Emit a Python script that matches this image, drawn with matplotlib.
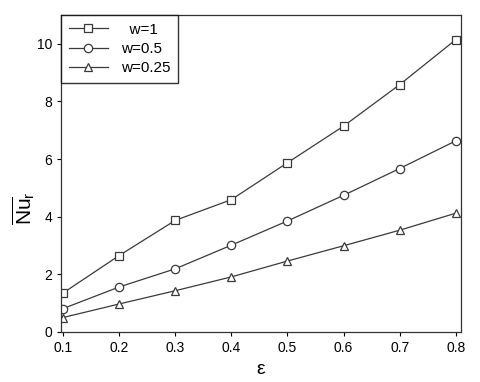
import numpy as np
import matplotlib
matplotlib.use('Agg')
from matplotlib import pyplot as plt

plt.rcParams['font.family'] = ['Liberation Sans', 'DejaVu Sans']
plt.rcParams['mathtext.fontset'] = 'custom'
plt.rcParams['mathtext.rm'] = 'Liberation Sans'
plt.rcParams['mathtext.it'] = 'Liberation Sans'

eps = [0.1, 0.2, 0.3, 0.4, 0.5, 0.6, 0.7, 0.8]
nu_w1 = [1.35, 2.65, 3.87, 4.59, 5.87, 7.14, 8.58, 10.14]
nu_w05 = [0.81, 1.56, 2.19, 3.01, 3.85, 4.74, 5.67, 6.63]
nu_w025 = [0.50, 0.97, 1.43, 1.91, 2.46, 2.99, 3.53, 4.12]

fig = plt.figure(figsize=(4.8, 3.82), dpi=100)
ax = fig.add_axes([0.127, 0.131, 0.833, 0.830])

lc = '#3a3a3a'
kw = dict(color=lc, lw=0.9, markersize=6, markerfacecolor='white', markeredgecolor=lc, markeredgewidth=0.9)
ax.plot(eps, nu_w1, marker='s', label='  w=1', **kw)
ax.plot(eps, nu_w05, marker='o', label='w=0.5', **kw)
ax.plot(eps, nu_w025, marker='^', label='w=0.25', **kw)

ax.set_xlim(0.0964, 0.809)
ax.set_ylim(0, 11)
ax.set_xticks([0.1, 0.2, 0.3, 0.4, 0.5, 0.6, 0.7, 0.8])
ax.set_yticks([0, 2, 4, 6, 8, 10])
ax.tick_params(direction='out', length=3, width=0.8, labelsize=10, top=False, right=False)
for s in ax.spines.values():
    s.set_linewidth(0.9)
    s.set_color('#333333')

ax.set_xlabel(r'$\epsilon$', fontsize=14, labelpad=4)
ax.set_ylabel(r'$\overline{\mathrm{Nu}}_{\mathrm{r}}$', fontsize=15)
ax.yaxis.set_label_coords(-0.06, 0.39)

leg = ax.legend(loc='upper left', fontsize=11, frameon=True, fancybox=False,
                borderaxespad=0, handlelength=2.6, labelspacing=0.35, borderpad=0.5)
leg.get_frame().set_edgecolor('black')
leg.get_frame().set_linewidth(1.0)

plt.savefig('out.png', dpi=100)
